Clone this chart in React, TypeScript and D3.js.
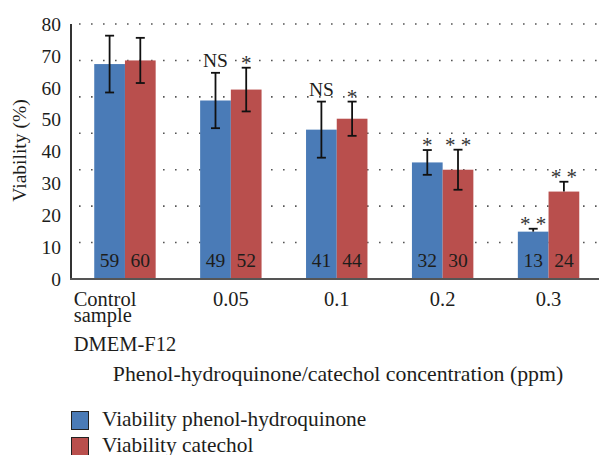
import { useEffect, useRef } from "react"
import * as d3 from "d3"

// concentrations (x categories)
const categories = ["Control", "0.05", "0.1", "0.2", "0.3"]
const categoryLines = [["Control", "sample", "DMEM-F12"], ["0.05"], ["0.1"], ["0.2"], ["0.3"]]
const seriesNames = ["Viability phenol-hydroquinone", "Viability catechol"]

const hqValues = [59, 49, 41, 32, 13]
const catValues = [60, 52, 44, 30, 24]

const hqErrUp = [7.8, 7.6, 7.7, 3.4, 0.8]
const hqErrDown = [7.8, 7.6, 7.7, 3.4, 0]
const catErrUp = [6.2, 6, 4.7, 5.5, 2.7]
const catErrDown = [6.2, 6, 4.7, 5.5, 0]

const hqMarks = ["", "NS", "NS", "*", "* *"]
const catMarks = ["", "*", "*", "* *", "* *"]

const gridTicks = [10, 20, 30, 40, 50, 60, 70]
const tickLabels = [0, 10, 20, 30, 40, 50, 60, 70, 80]

const colors = ["#4a7bb7", "#b94f4d"]

export default function App() {
  const svgRef = useRef(null)

  useEffect(() => {
    if (!svgRef.current) return
    const svg = d3.select(svgRef.current)
    svg.selectAll("*").remove()

    const width = 599
    const height = 455
    const left = 71
    const bottom = 279
    const top = 24
    const font = '"Liberation Serif", "DejaVu Serif", serif'

    const x0 = d3.scaleBand().domain(categories).range([72, 601.5]).paddingInner(0.42).paddingOuter(0.21)
    const x1 = d3.scaleBand().domain(seriesNames).range([0, x0.bandwidth()])
    const y = d3.scaleLinear().domain([0, 70]).range([bottom, top])
    // the printed tick labels run 0-80 over the same height
    const yLabel = d3.scaleLinear().domain([0, 80]).range([bottom, top])

    const g = svg.append("g").style("font-family", font).style("font-size", "19.5px").attr("fill", "#1d1d1b")

    // dotted grid
    g.selectAll("line.grid")
      .data(gridTicks)
      .enter()
      .append("line")
      .attr("class", "grid")
      .attr("x1", left + 8)
      .attr("x2", width)
      .attr("y1", (d) => y(d))
      .attr("y2", (d) => y(d))
      .attr("stroke", "#555")
      .attr("stroke-width", 1.6)
      .attr("stroke-dasharray", "1.6 10.4")

    // y tick labels
    g.selectAll("text.ytick")
      .data(tickLabels)
      .enter()
      .append("text")
      .attr("class", "ytick")
      .attr("x", 61)
      .attr("y", (d) => yLabel(d))
      .attr("dy", "0.35em")
      .attr("text-anchor", "end")
      .text((d) => d)

    g.append("text")
      .attr("transform", `translate(26,${(top + bottom) / 2 - 1}) rotate(-90)`)
      .attr("text-anchor", "middle")
      .text("Viability (%)")

    const series = [
      { name: seriesNames[0], values: hqValues, up: hqErrUp, down: hqErrDown, marks: hqMarks, color: colors[0] },
      { name: seriesNames[1], values: catValues, up: catErrUp, down: catErrDown, marks: catMarks, color: colors[1] },
    ]

    series.forEach((s) => {
      const rows = categories.map((c, i) => ({ c, v: s.values[i], up: s.up[i], down: s.down[i], mark: s.marks[i] }))
      const cx = (d) => x0(d.c) + x1(s.name) + x1.bandwidth() / 2

      g.selectAll(null)
        .data(rows)
        .enter()
        .append("rect")
        .attr("x", (d) => x0(d.c) + x1(s.name))
        .attr("y", (d) => y(d.v))
        .attr("width", x1.bandwidth())
        .attr("height", (d) => y(0) - y(d.v))
        .attr("fill", s.color)

      g.selectAll(null)
        .data(rows)
        .enter()
        .append("text")
        .attr("x", cx)
        .attr("y", bottom - 12)
        .attr("text-anchor", "middle")
        .text((d) => d.v)

      const eb = g.selectAll(null).data(rows).enter().append("g").attr("stroke", "#111").attr("stroke-width", 1.8)
      eb.append("line")
        .attr("x1", cx)
        .attr("x2", cx)
        .attr("y1", (d) => y(d.v + d.up))
        .attr("y2", (d) => y(d.v - d.down))
      eb.append("line")
        .attr("x1", (d) => cx(d) - 4.5)
        .attr("x2", (d) => cx(d) + 4.5)
        .attr("y1", (d) => y(d.v + d.up))
        .attr("y2", (d) => y(d.v + d.up))
      eb.filter((d) => d.down > 0)
        .append("line")
        .attr("x1", (d) => cx(d) - 4.5)
        .attr("x2", (d) => cx(d) + 4.5)
        .attr("y1", (d) => y(d.v - d.down))
        .attr("y2", (d) => y(d.v - d.down))

      g.selectAll(null)
        .data(rows.filter((d) => d.mark))
        .enter()
        .append("text")
        .attr("x", cx)
        .attr("y", (d) => y(d.v + d.up) + (d.mark === "NS" ? -5.5 : 2))
        .attr("text-anchor", "middle")
        .style("font-size", (d) => (d.mark === "NS" ? "19.5px" : "21px"))
        .attr("fill", (d) => (d.mark === "NS" ? "#1d1d1b" : "#333"))
        .text((d) => d.mark)
    })

    // axes lines
    g.append("line").attr("x1", left).attr("x2", left).attr("y1", top).attr("y2", bottom).attr("stroke", "#333").attr("stroke-width", 2)
    g.append("line").attr("x1", left - 1).attr("x2", width).attr("y1", bottom).attr("y2", bottom).attr("stroke", "#555").attr("stroke-width", 2)

    // x category labels, multi-line block centred on the group
    categories.forEach((c, i) => {
      const lines = categoryLines[i]
      const center = x0(c) + x0.bandwidth() / 2
      const t = g.append("text").style("font-size", "20.5px").attr("text-anchor", lines.length > 1 ? "start" : "middle")
      const dys = [0, 16, 28.5]
      lines.forEach((l, j) => {
        t.append("tspan").attr("x", center).attr("y", 306 + d3.sum(dys.slice(0, j + 1))).text(l)
      })
      if (lines.length > 1) {
        const w = d3.max(t.selectAll("tspan").nodes(), (n) => n.getComputedTextLength())
        t.selectAll("tspan").attr("x", center - w / 2)
      }
    })

    g.append("text")
      .attr("x", 338)
      .attr("y", 381)
      .attr("text-anchor", "middle")
      .style("font-size", "21.8px")
      .text("Phenol-hydroquinone/catechol concentration (ppm)")

    // legend
    const lg = g.selectAll(null).data(seriesNames).enter().append("g").attr("transform", (d, i) => `translate(71,${411 + i * 26})`)
    lg.append("rect").attr("x", 0.5).attr("y", 0.5).attr("width", 17).attr("height", 18).attr("fill", (d, i) => colors[i]).attr("stroke", "#222").attr("stroke-width", 1)
    lg.append("text").attr("x", 31).attr("y", 15).style("font-size", "21.4px").text((d) => d)

    svg.attr("width", width).attr("height", height).attr("viewBox", [0, 0, width, height])
  }, [])

  return (
    <div style={{ position: "absolute", left: 0, top: 0, background: "#fff" }}>
      <svg ref={svgRef} style={{ display: "block" }}></svg>
    </div>
  )
}
